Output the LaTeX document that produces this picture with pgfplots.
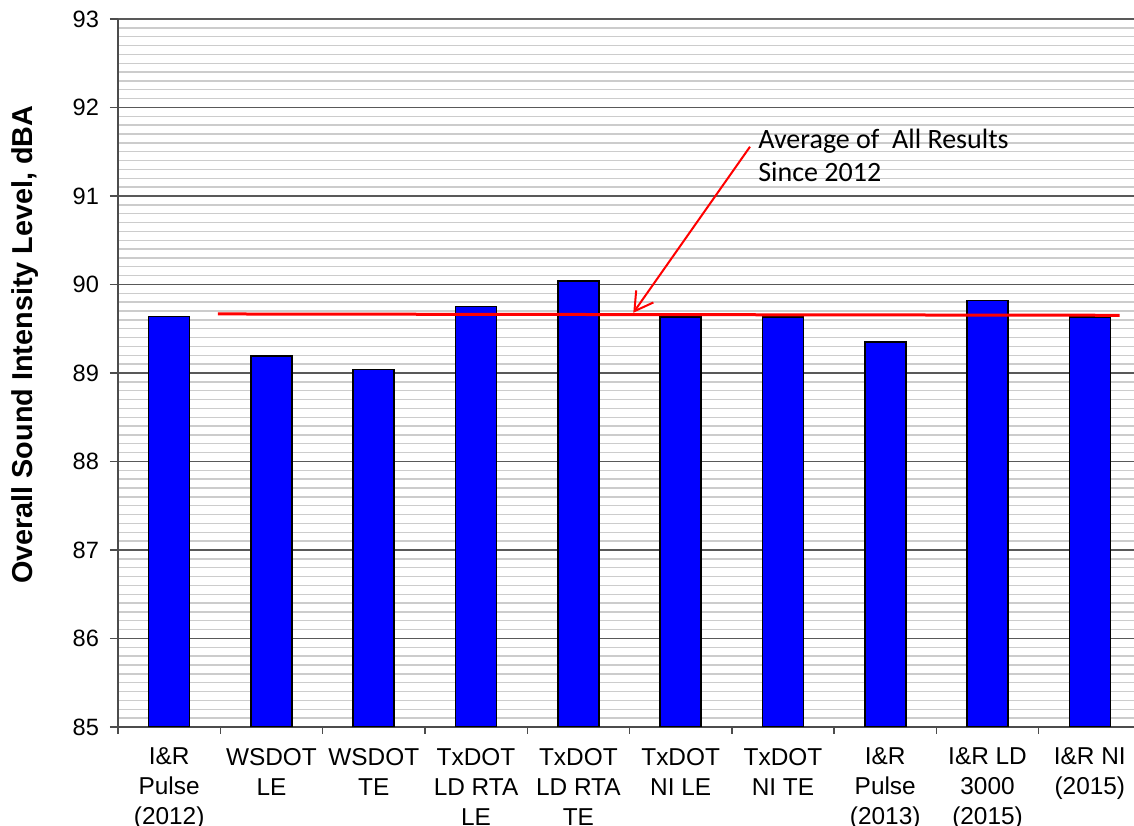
\documentclass[border=0pt]{standalone}
\usepackage{fontspec}
\setmainfont{Liberation Sans}
\newfontfamily\calibri{Carlito}
\usepackage{pgfplots}
\pgfplotsset{compat=1.18}
\usetikzlibrary{calc,arrows.meta}
\begin{document}
\begin{tikzpicture}
\begin{axis}[
  scale only axis,
  width=511.5pt, height=354pt,
  xmin=-0.5, xmax=9.5,
  ymin=85, ymax=93,
  axis x line*=bottom, axis y line*=left,
  axis line style={black!70, line width=0.9pt},
  ytick={85,...,93},
  minor y tick num=9,
  ymajorgrids, yminorgrids,
  major grid style={black!65, line width=0.6pt},
  minor grid style={black!20, line width=0.7pt},
  minor tick length=0pt,
  tick align=outside,
  major tick length=4pt,
  tick style={black!70, line width=0.7pt},
  xtick style={/pgfplots/major tick length=3.4pt},
  xtick={-0.5,0.5,...,9.5},
  x tick label as interval,
  xticklabels={{I\&R\\Pulse\\(2012)},{WSDOT\\LE},{WSDOT\\TE},{TxDOT\\LD RTA\\LE},{TxDOT\\LD RTA\\TE},{TxDOT\\NI LE},{TxDOT\\NI TE},{I\&R\\Pulse\\(2013)},{I\&R LD\\3000\\(2015)},{I\&R NI\\(2015)}},
  xticklabel style={align=center, font=\fontsize{12.2}{15}\selectfont, anchor=north, yshift=-3pt},
  yticklabel style={font=\fontsize{11.8}{13}\selectfont, xshift=-2pt},
  /pgf/number format/assume math mode=true,
  every axis y label/.style={at={(axis description cs:-0.091,0.54)}, rotate=90, anchor=center},
  ylabel={\bfseries\fontsize{14.4}{17}\selectfont Overall Sound Intensity Level, dBA},
]
\addplot[ybar, bar width=20.5pt, fill={rgb,255:red,0;green,0;blue,255}, draw=black, line width=0.75pt]
  coordinates {(0,89.64) (1,89.19) (2,89.04) (3,89.75) (4,90.04) (5,89.63) (6,89.63) (7,89.35) (8,89.82) (9,89.63)};
\addplot[red, line width=1.5pt] coordinates {(0.477,89.667) (9.29,89.652)};
\addplot[red, line width=1pt, -{Straight Barb[length=9pt,width=10.5pt,line width=1pt]}] coordinates {(5.678,91.557) (4.537,89.68)};
\node[anchor=base west, inner sep=0pt, font=\calibri\fontsize{14}{17}\selectfont] at (axis cs:5.756,91.539) {Average of\ \ All Results};
\node[anchor=base west, inner sep=0pt, font=\calibri\fontsize{14}{17}\selectfont] at (axis cs:5.756,91.162) {Since 2012};
\end{axis}
\pgfresetboundingbox
\path ($(current axis.south west)+(-59pt,-49.5pt)$) rectangle ($(current axis.north east)+(-3.5pt,9.5pt)$);
\end{tikzpicture}
\end{document}
